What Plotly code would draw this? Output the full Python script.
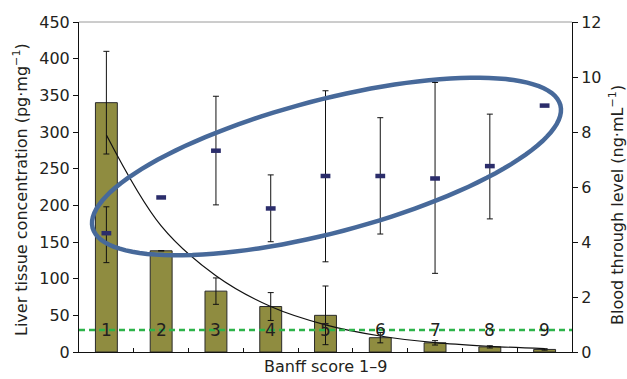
import math
import plotly.graph_objects as go

# ---- data ----
scores = [1, 2, 3, 4, 5, 6, 7, 8, 9]
score_labels = ["1", "2", "3", "4", "5", "6", "7", "8", "9"]

tissue_conc = [340, 138, 83, 62, 50, 19.5, 12.5, 7, 3.5]          # pg/mg (bars, left axis)
tissue_err = [70, None, 18, 19, 40, 7, 3, 1.5, 1]

trend_vals = [296, 172, 104, 62, 37, 21.8, 12.8, 7.8, 4.5]        # fitted trend curve (left axis)

blood_level = [4.32, 5.62, 7.32, 5.22, 6.40, 6.40, 6.31, 6.76, 8.96]   # ng/mL (right axis)
blood_hi = [5.28, None, 9.30, 6.44, 9.50, 8.52, 9.80, 8.65, None]
blood_lo = [3.25, None, 5.35, 4.01, 3.28, 4.29, 2.86, 4.84, None]

threshold = 30  # dashed green reference line (left axis units)

# ---- layout constants ----
W, H = 627, 379
ML, MR, MT, MB = 79, 55, 22, 27
PW, PH = W - ML - MR, H - MT - MB
XMIN, XMAX = 0.5, 9.5
YMAX = 450
FONT = "DejaVu Sans"
TXT = "#231f20"

err_plus = [None if h is None else h - v for h, v in zip(blood_hi, blood_level)]
err_minus = [None if l is None else v - l for l, v in zip(blood_lo, blood_level)]

fig = go.Figure()

fig.add_trace(go.Bar(
    x=scores, y=tissue_conc, width=0.4,
    marker=dict(color="#8f8c40", line=dict(color="#2a2a2a", width=1)),
    error_y=dict(type="data", array=tissue_err, visible=True,
                 color="#111", thickness=1, width=3),
    yaxis="y", showlegend=False,
))

fig.add_trace(go.Scatter(
    x=scores, y=trend_vals, mode="lines", line=dict(color="#111", width=1.2, shape="spline"),
    yaxis="y", showlegend=False,
))

fig.add_trace(go.Scatter(
    x=scores, y=blood_level, mode="markers",
    marker=dict(symbol="line-ew", size=7, line=dict(color="#2b2d6b", width=4.5)),
    error_y=dict(type="data", symmetric=False, array=err_plus, arrayminus=err_minus,
                 visible=True, color="#111", thickness=1, width=3),
    yaxis="y2", showlegend=False,
))

# ellipse highlight (defined in pixel space of the plot area, converted to data units)
cx, cy = 326.5, 166.5
a, b = 241.8, 66.4
th = math.radians(14.7)
pts = []
for i in range(121):
    t = 2 * math.pi * i / 120
    px = cx + a * math.cos(th) * math.cos(t) - b * math.sin(th) * math.sin(t)
    py = cy - (a * math.sin(th) * math.cos(t) + b * math.cos(th) * math.sin(t))
    xd = XMIN + (px - ML) / PW * (XMAX - XMIN)
    yd = (MT + PH - py) / PH * YMAX
    pts.append((xd, yd))
path = "M " + " L ".join(f"{x:.4f},{y:.3f}" for x, y in pts) + " Z"

shapes = [
    dict(type="line", xref="paper", yref="y", x0=0, x1=1, y0=threshold, y1=threshold,
         line=dict(color="#2db34a", width=2.4, dash="6px,4px"), layer="above"),
    dict(type="path", xref="x", yref="y", path=path,
         line=dict(color="#47699a", width=4.5), layer="above"),
    dict(type="line", xref="paper", yref="paper", x0=0, x1=1, y0=1, y1=1,
         line=dict(color="#9a9a9a", width=1)),
]

annotations = [
    dict(x=s, y=threshold, xref="x", yref="y", text=lab, showarrow=False,
         font=dict(family=FONT, size=17, color=TXT), xanchor="center", yanchor="middle")
    for s, lab in zip(scores, score_labels)
]
annotations += [
    dict(x=(21 - ML) / PW, y=(MT + PH - 190) / PH, xref="paper", yref="paper",
         text="Liver tissue concentration (pg·mg<sup>−1</sup>)", textangle=-90,
         showarrow=False, font=dict(family=FONT, size=16, color=TXT),
         xanchor="center", yanchor="middle"),
    dict(x=(616 - ML) / PW, y=(MT + PH - 205) / PH, xref="paper", yref="paper",
         text="Blood through level (ng·mL<sup>−1</sup>)", textangle=-90,
         showarrow=False, font=dict(family=FONT, size=16, color=TXT),
         xanchor="center", yanchor="middle"),
    dict(x=0.5, y=(MT + PH - 378) / PH, xref="paper", yref="paper",
         text="Banff score 1–9", showarrow=False,
         font=dict(family=FONT, size=16, color=TXT), xanchor="center", yanchor="bottom"),
]

fig.update_layout(
    width=W, height=H,
    margin=dict(l=ML, r=MR, t=MT, b=MB, autoexpand=False),
    paper_bgcolor="white", plot_bgcolor="white",
    font=dict(family=FONT, size=16, color=TXT),
    xaxis=dict(range=[XMIN, XMAX], tickvals=[1.5, 2.5, 3.5, 4.5, 5.5, 6.5, 7.5, 8.5],
               showticklabels=False, ticks="inside", ticklen=4, tickcolor="#111",
               showline=True, linecolor="#111", linewidth=1, showgrid=False,
               zeroline=False, fixedrange=True),
    yaxis=dict(range=[0, YMAX], dtick=50, ticks="outside", ticklen=5, tickcolor="#111",
               showline=True, linecolor="#111", linewidth=1, showgrid=False,
               zeroline=False, tickfont=dict(family=FONT, size=16, color=TXT)),
    yaxis2=dict(range=[0, 12], dtick=2, overlaying="y", side="right", ticks="outside",
                ticklen=5, tickcolor="#111", showline=True, linecolor="#111", linewidth=1,
                showgrid=False, zeroline=False, tickfont=dict(family=FONT, size=16, color=TXT)),
    shapes=shapes, annotations=annotations, bargap=0.6,
)

fig.write_html(
    "out.html",
    config={"displayModeBar": False},
    post_script="document.body.style.margin='0';document.body.style.overflow='hidden';",
)
